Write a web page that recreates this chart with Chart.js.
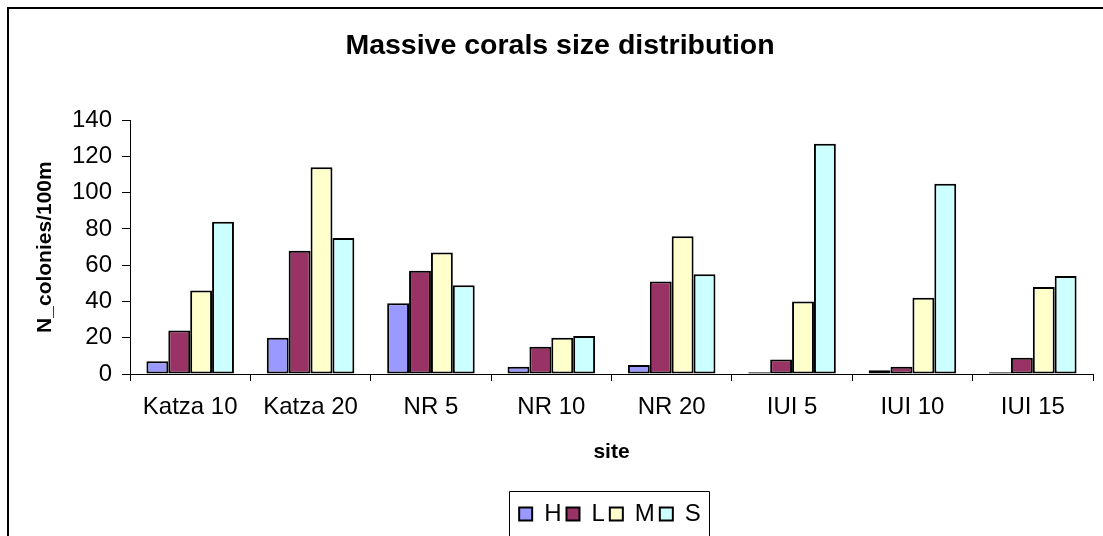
<!DOCTYPE html>
<html>
<head>
<meta charset="utf-8">
<title>Massive corals size distribution</title>
<script src="https://cdn.jsdelivr.net/npm/chart.js@4/dist/chart.umd.min.js"></script>
<style>
  html, body { margin: 0; padding: 0; background: #fff; overflow: hidden; }
  #wrap { position: relative; width: 1103px; height: 536px; }
</style>
</head>
<body>
<div id="wrap"><canvas id="chart"></canvas></div>
<script>
// Survey sites along the x axis
const sites = ['Katza 10', 'Katza 20', 'NR 5', 'NR 10', 'NR 20', 'IUI 5', 'IUI 10', 'IUI 15'];

// Colony counts per 100 m for each size class
const sizeH = [7, 20, 39, 4, 5, 1, 2, 1];
const sizeL = [24, 68, 57, 15, 51, 8, 4, 9];
const sizeM = [46, 114, 67, 20, 76, 40, 42, 48];
const sizeS = [84, 75, 49, 21, 55, 127, 105, 54];

// Value axis ticks
const yTicks = [0, 20, 40, 60, 80, 100, 120, 140];

const FONT = 'Arial, "Liberation Sans", Helvetica, sans-serif';

function series(label, data, color) {
  return {
    label, data,
    backgroundColor: color,
    borderColor: '#000',
    borderWidth: 2,
    borderSkipped: false,
    categoryPercentage: 4 / 5.5,
    barPercentage: 1.0
  };
}

// Horizontal placement of the title and legend centres
const TITLE_CENTER_X = 560;
const LEGEND_CENTER_X = 610;
const LEGEND_ROW_CENTER_Y = 512;

// Moves the title and legend blocks sideways after layout
const placementPlugin = {
  id: 'placement',
  afterLayout(chart) {
    const t = chart.titleBlock;
    if (t) {
      const dx = TITLE_CENTER_X - (t.left + t.right) / 2;
      t.left += dx; t.right += dx;
    }
    const lg = chart.legend;
    if (lg) {
      const dx = LEGEND_CENTER_X - (lg.left + lg.right) / 2;
      lg.left += dx; lg.right += dx;
    }
  }
};

// Outer frame (top and left edges) and a box around the legend
const framePlugin = {
  id: 'frame',
  beforeDraw(chart) {
    const ctx = chart.ctx;
    ctx.save();
    ctx.fillStyle = '#fff';
    ctx.fillRect(0, 0, chart.width, chart.height);
    ctx.strokeStyle = '#000';
    ctx.lineWidth = 2;
    ctx.beginPath();
    ctx.moveTo(8, chart.height + 5);
    ctx.lineTo(8, 8);
    ctx.lineTo(chart.width + 5, 8);
    ctx.stroke();
    ctx.restore();
  },
  afterDraw(chart) {
    const lg = chart.legend;
    if (!lg || !lg.lineWidths || !lg.lineWidths.length) return;
    const rowW = lg.lineWidths[0];
    const cx = (lg.left + lg.right) / 2;
    const x0 = Math.round(cx - rowW / 2 - 8) + 0.5;
    const x1 = Math.round(cx + rowW / 2 + 6) + 0.5;
    const y0 = Math.round(LEGEND_ROW_CENTER_Y - 21) + 0.5;
    const ctx = chart.ctx;
    ctx.save();
    ctx.strokeStyle = '#000';
    ctx.lineWidth = 1;
    ctx.beginPath();
    ctx.moveTo(x0, chart.height + 5);
    ctx.lineTo(x0, y0);
    ctx.lineTo(x1, y0);
    ctx.lineTo(x1, chart.height + 5);
    ctx.stroke();
    ctx.restore();
  }
};

new Chart(document.getElementById('chart'), {
  type: 'bar',
  data: {
    labels: sites,
    datasets: [
      series('H', sizeH, '#9999FF'),
      series('L', sizeL, '#993366'),
      series('M', sizeM, '#FFFFCC'),
      series('S', sizeS, '#CCFFFF')
    ]
  },
  options: {
    responsive: true,
    maintainAspectRatio: false,
    animation: false,
    layout: { padding: { left: 0, right: 10, top: 0, bottom: 0 } },
    plugins: {
      title: {
        display: true,
        text: 'Massive corals size distribution',
        color: '#000',
        font: { family: FONT, size: 28.5, weight: 'bold' },
        padding: { top: 29, bottom: 57 }
      },
      legend: {
        display: true,
        position: 'bottom',
        labels: {
          color: '#000',
          font: { family: FONT, size: 24 },
          boxWidth: 13,
          boxHeight: 13,
          padding: 5,
          generateLabels(chart) {
            return chart.data.datasets.map((ds, i) => ({
              text: ds.label,
              fillStyle: ds.backgroundColor,
              strokeStyle: '#000',
              lineWidth: 2,
              hidden: false,
              datasetIndex: i,
              fontColor: '#000'
            }));
          }
        }
      },
      tooltip: { enabled: false }
    },
    scales: {
      x: {
        offset: true,
        grid: {
          display: true,
          offset: true,
          drawOnChartArea: false,
          drawTicks: true,
          tickLength: 7,
          tickColor: '#000',
          color: '#000'
        },
        border: { display: true, color: '#000', width: 1 },
        ticks: {
          color: '#000',
          font: { family: FONT, size: 24 },
          padding: 12,
          maxRotation: 0,
          autoSkip: false
        },
        title: {
          display: true,
          text: 'site',
          color: '#000',
          font: { family: FONT, size: 21, weight: 'bold' },
          padding: { top: 32, bottom: 32 }
        },
        afterFit(scale) { scale.height = 123; }
      },
      y: {
        min: 0,
        max: 140,
        afterBuildTicks(scale) { scale.ticks = yTicks.map(v => ({ value: v })); },
        grid: {
          display: true,
          drawOnChartArea: false,
          drawTicks: true,
          tickLength: 8,
          tickColor: '#000'
        },
        border: { display: true, color: '#000', width: 1 },
        ticks: {
          color: '#000',
          font: { family: FONT, size: 24 },
          padding: 10
        },
        title: {
          display: true,
          text: 'N_colonies/100m',
          color: '#000',
          font: { family: FONT, size: 21, weight: 'bold' },
          padding: { top: 33, bottom: 33 }
        },
        afterFit(scale) { scale.width = 130; }
      }
    }
  },
  plugins: [placementPlugin, framePlugin]
});
</script>
</body>
</html>
